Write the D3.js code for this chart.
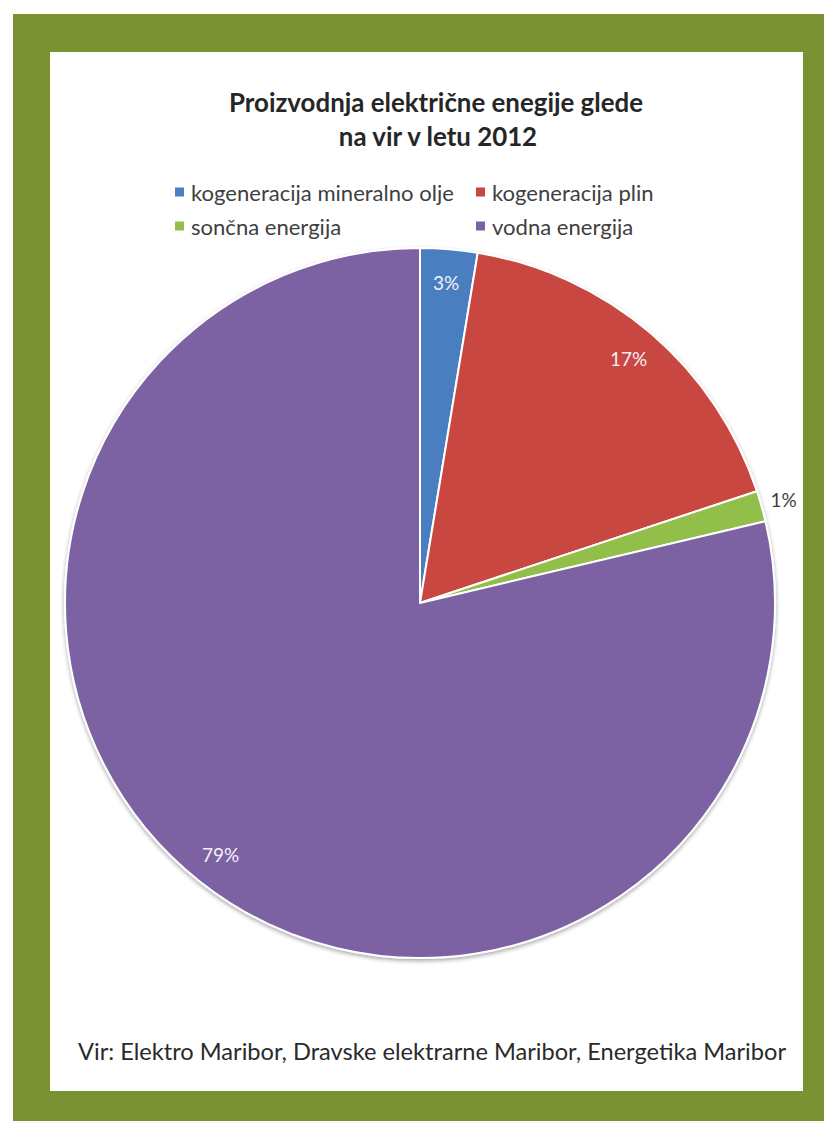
<!DOCTYPE html>
<html>
<head>
<meta charset="utf-8">
<script src="https://cdn.jsdelivr.net/npm/d3@7"></script>
<style>
  html, body { margin: 0; padding: 0; background: #ffffff; }
  svg { display: block; }
</style>
</head>
<body>
<svg id="chart" width="824" height="1121"></svg>
<script>
// Electricity production in Maribor by source, 2012 (shares in %)
const categories = [
  "kogeneracija mineralno olje",
  "kogeneracija plin",
  "sončna energija",
  "vodna energija"
];
const shares = [2.6, 17.3, 1.4, 78.7];
const colors = ["#4a7fc1", "#c8473f", "#92bf48", "#7b62a3"];
const titleLines = ["Proizvodnja električne enegije glede", "na vir v letu 2012"];
const sourceNote = "Vir: Elektro Maribor, Dravske elektrarne Maribor, Energetika Maribor";

const svg = d3.select("#chart");
const W = 824, H = 1121;

// green frame with white panel
svg.append("rect").attr("x", 13).attr("y", 14).attr("width", W - 13).attr("height", H - 14)
  .attr("fill", "#7a9232");
svg.append("rect").attr("x", 50).attr("y", 52).attr("width", 753).attr("height", 1039)
  .attr("fill", "#ffffff");

// scale a text element's font size so it spans the given width
function fitWidth(sel, width) {
  const node = sel.node();
  const fs = parseFloat(sel.attr("font-size"));
  const w = node.getComputedTextLength();
  sel.attr("font-size", (fs * width / w).toFixed(2));
}

// title
const titleFont = "Lato, 'Open Sans', sans-serif";
const t1 = svg.append("text").attr("x", 436).attr("y", 112)
  .attr("text-anchor", "middle").attr("font-family", titleFont)
  .attr("font-weight", 700).attr("font-size", 22).attr("fill", "#262626")
  .text(titleLines[0]);
fitWidth(t1, 414);
svg.append("text").attr("x", 438).attr("y", 146)
  .attr("text-anchor", "middle").attr("font-family", titleFont)
  .attr("font-weight", 700).attr("font-size", t1.attr("font-size")).attr("fill", "#262626")
  .text(titleLines[1]);

// legend: two columns, two rows
const legendCols = [175, 476];
const legendRows = [192, 226];
const legend = svg.append("g");
categories.forEach((c, i) => {
  const x = legendCols[i % 2], y = legendRows[Math.floor(i / 2)];
  legend.append("rect").attr("x", x).attr("y", y - 4.5).attr("width", 9).attr("height", 9)
    .attr("fill", colors[i]);
  const t = legend.append("text").attr("x", x + 16).attr("y", y)
    .attr("dominant-baseline", "central")
    .attr("font-family", "Lato, 'Open Sans', sans-serif").attr("font-size", 17)
    .attr("fill", "#404040").text(c);
  if (i === 0) fitWidth(t, 263);
  else t.attr("font-size", legend.select("text").attr("font-size"));
});

// pie
const cx = 420, cy = 603, R = 355;
const pie = d3.pie().sort(null).value(d => d);
const arcs = pie(shares);
const arc = d3.arc().innerRadius(0).outerRadius(R);
const g = svg.append("g").attr("transform", `translate(${cx},${cy})`);

// soft edge shadow under the pie
const defs = svg.append("defs");
const f = defs.append("filter").attr("id", "pieShadow").attr("x", "-10%").attr("y", "-10%")
  .attr("width", "120%").attr("height", "120%");
f.append("feGaussianBlur").attr("in", "SourceAlpha").attr("stdDeviation", 2);
f.append("feOffset").attr("dx", 0).attr("dy", 2).attr("result", "ob");
f.append("feComponentTransfer").append("feFuncA").attr("type", "linear").attr("slope", 0.35);
const fm = f.append("feMerge");
fm.append("feMergeNode");
fm.append("feMergeNode").attr("in", "SourceGraphic");

g.append("g").attr("filter", "url(#pieShadow)")
  .selectAll("path").data(arcs).join("path")
  .attr("d", arc)
  .attr("fill", (d, i) => colors[i])
  .attr("stroke", "#ffffff").attr("stroke-width", 2).attr("stroke-linejoin", "round");

// percentage labels: inside for large slices, just outside for the smallest
const inner = d3.arc().innerRadius(R * 0.905).outerRadius(R * 0.905);
const outer = d3.arc().innerRadius(R * 1.065).outerRadius(R * 1.065);
g.selectAll("text.pct").data(arcs).join("text")
  .attr("class", "pct")
  .attr("transform", d => `translate(${(d.data < 2 ? outer : inner).centroid(d)})`)
  .attr("text-anchor", "middle").attr("dominant-baseline", "central")
  .attr("font-family", "Lato, 'Open Sans', sans-serif").attr("font-size", 19)
  .attr("fill", d => d.data < 2 ? "#404040" : "#f4eef8")
  .text(d => Math.round(d.data) + "%");

// source note
const note = svg.append("text").attr("x", 432).attr("y", 1060)
  .attr("text-anchor", "middle")
  .attr("font-family", "Lato, 'Open Sans', sans-serif").attr("font-size", 20)
  .attr("fill", "#2a2a2a").text(sourceNote);
fitWidth(note, 708);
</script>
</body>
</html>
